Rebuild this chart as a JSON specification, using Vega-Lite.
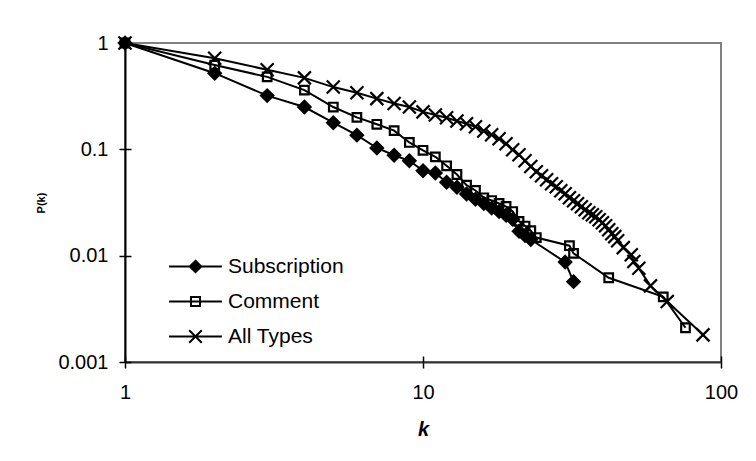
{
  "$schema": "https://vega.github.io/schema/vega-lite/v6.json",
  "autosize": {"type": "none"},
  "padding": {"left": 125, "top": 43, "right": 35, "bottom": 99},
  "width": 596,
  "height": 319,
  "background": "white",
  "config": {
    "view": {"stroke": "#808080", "strokeWidth": 2},
    "font": "Liberation Sans"
  },
  "data": {
    "values": [
      {"series": "Subscription", "k": 1, "p": 1},
      {"series": "Subscription", "k": 2, "p": 0.52},
      {"series": "Subscription", "k": 3, "p": 0.32},
      {"series": "Subscription", "k": 4, "p": 0.25},
      {"series": "Subscription", "k": 5, "p": 0.178},
      {"series": "Subscription", "k": 6, "p": 0.136},
      {"series": "Subscription", "k": 7, "p": 0.103},
      {"series": "Subscription", "k": 8, "p": 0.088},
      {"series": "Subscription", "k": 9, "p": 0.078},
      {"series": "Subscription", "k": 10, "p": 0.063},
      {"series": "Subscription", "k": 11, "p": 0.06},
      {"series": "Subscription", "k": 12, "p": 0.049},
      {"series": "Subscription", "k": 13, "p": 0.044},
      {"series": "Subscription", "k": 14, "p": 0.038},
      {"series": "Subscription", "k": 15, "p": 0.034},
      {"series": "Subscription", "k": 16, "p": 0.031},
      {"series": "Subscription", "k": 17, "p": 0.028},
      {"series": "Subscription", "k": 18, "p": 0.026},
      {"series": "Subscription", "k": 19, "p": 0.024},
      {"series": "Subscription", "k": 20, "p": 0.022},
      {"series": "Subscription", "k": 21, "p": 0.017},
      {"series": "Subscription", "k": 22, "p": 0.0155},
      {"series": "Subscription", "k": 23, "p": 0.0142},
      {"series": "Subscription", "k": 30, "p": 0.0087},
      {"series": "Subscription", "k": 32, "p": 0.0057},
      {"series": "Comment", "k": 1, "p": 1},
      {"series": "Comment", "k": 2, "p": 0.62},
      {"series": "Comment", "k": 3, "p": 0.48},
      {"series": "Comment", "k": 4, "p": 0.36},
      {"series": "Comment", "k": 5, "p": 0.25},
      {"series": "Comment", "k": 6, "p": 0.2},
      {"series": "Comment", "k": 7, "p": 0.172},
      {"series": "Comment", "k": 8, "p": 0.15},
      {"series": "Comment", "k": 9, "p": 0.116},
      {"series": "Comment", "k": 10, "p": 0.098},
      {"series": "Comment", "k": 11, "p": 0.085},
      {"series": "Comment", "k": 12, "p": 0.07},
      {"series": "Comment", "k": 13, "p": 0.058},
      {"series": "Comment", "k": 14, "p": 0.046},
      {"series": "Comment", "k": 15, "p": 0.041},
      {"series": "Comment", "k": 16, "p": 0.035},
      {"series": "Comment", "k": 17, "p": 0.033},
      {"series": "Comment", "k": 18, "p": 0.031},
      {"series": "Comment", "k": 19, "p": 0.029},
      {"series": "Comment", "k": 20, "p": 0.026},
      {"series": "Comment", "k": 21, "p": 0.021},
      {"series": "Comment", "k": 22, "p": 0.019},
      {"series": "Comment", "k": 23, "p": 0.0172},
      {"series": "Comment", "k": 24, "p": 0.0148},
      {"series": "Comment", "k": 31, "p": 0.0124},
      {"series": "Comment", "k": 32, "p": 0.0105},
      {"series": "Comment", "k": 42, "p": 0.0062},
      {"series": "Comment", "k": 64, "p": 0.0041},
      {"series": "Comment", "k": 76, "p": 0.0021},
      {"series": "All Types", "k": 1, "p": 1},
      {"series": "All Types", "k": 2, "p": 0.72},
      {"series": "All Types", "k": 3, "p": 0.56},
      {"series": "All Types", "k": 4, "p": 0.47},
      {"series": "All Types", "k": 5, "p": 0.385},
      {"series": "All Types", "k": 6, "p": 0.34},
      {"series": "All Types", "k": 7, "p": 0.3},
      {"series": "All Types", "k": 8, "p": 0.27},
      {"series": "All Types", "k": 9, "p": 0.25},
      {"series": "All Types", "k": 10, "p": 0.225},
      {"series": "All Types", "k": 11, "p": 0.21},
      {"series": "All Types", "k": 12, "p": 0.198},
      {"series": "All Types", "k": 13, "p": 0.185},
      {"series": "All Types", "k": 14, "p": 0.174},
      {"series": "All Types", "k": 15, "p": 0.163},
      {"series": "All Types", "k": 16, "p": 0.149},
      {"series": "All Types", "k": 17, "p": 0.137},
      {"series": "All Types", "k": 18, "p": 0.126},
      {"series": "All Types", "k": 19, "p": 0.113},
      {"series": "All Types", "k": 20, "p": 0.099},
      {"series": "All Types", "k": 21, "p": 0.089},
      {"series": "All Types", "k": 22, "p": 0.078},
      {"series": "All Types", "k": 23, "p": 0.069},
      {"series": "All Types", "k": 24, "p": 0.0615},
      {"series": "All Types", "k": 25, "p": 0.0564},
      {"series": "All Types", "k": 26, "p": 0.0517},
      {"series": "All Types", "k": 27, "p": 0.0475},
      {"series": "All Types", "k": 28, "p": 0.0445},
      {"series": "All Types", "k": 29, "p": 0.0408},
      {"series": "All Types", "k": 30, "p": 0.0382},
      {"series": "All Types", "k": 31, "p": 0.035},
      {"series": "All Types", "k": 32, "p": 0.0328},
      {"series": "All Types", "k": 33, "p": 0.0308},
      {"series": "All Types", "k": 34, "p": 0.0288},
      {"series": "All Types", "k": 35, "p": 0.027},
      {"series": "All Types", "k": 36, "p": 0.0253},
      {"series": "All Types", "k": 37, "p": 0.0243},
      {"series": "All Types", "k": 38, "p": 0.0232},
      {"series": "All Types", "k": 39, "p": 0.0218},
      {"series": "All Types", "k": 40, "p": 0.0204},
      {"series": "All Types", "k": 41, "p": 0.0191},
      {"series": "All Types", "k": 42, "p": 0.0175},
      {"series": "All Types", "k": 43, "p": 0.0161},
      {"series": "All Types", "k": 44, "p": 0.0151},
      {"series": "All Types", "k": 45, "p": 0.0138},
      {"series": "All Types", "k": 47, "p": 0.0119},
      {"series": "All Types", "k": 50, "p": 0.0102},
      {"series": "All Types", "k": 51, "p": 0.0088},
      {"series": "All Types", "k": 53, "p": 0.0076},
      {"series": "All Types", "k": 58, "p": 0.0052},
      {"series": "All Types", "k": 66, "p": 0.0037},
      {"series": "All Types", "k": 87, "p": 0.0018}
    ]
  },
  "resolve": {
    "axis": {"x": "independent", "y": "independent"},
    "scale": {"shape": "independent", "fill": "independent"},
    "legend": {"shape": "independent", "fill": "independent"}
  },
  "layer": [
    {
      "mark": {"type": "line", "stroke": "black", "strokeWidth": 2},
      "encoding": {
        "x": {
          "field": "k", "type": "quantitative",
          "scale": {"type": "log", "domain": [1, 100], "nice": false},
          "axis": {
            "orient": "bottom", "values": [1, 10, 100], "format": "~g",
            "grid": false, "tickSize": 6, "tickColor": "black", "tickWidth": 1.5,
            "domainColor": "#333333", "domainWidth": 2,
            "labelFontSize": 20, "labelColor": "black", "labelPadding": 14,
            "labelFlush": false, "labelOverlap": false,
            "title": "k", "titleFontSize": 20, "titleFontWeight": "bold",
            "titleFontStyle": "italic", "titleColor": "black", "titlePadding": 17
          }
        },
        "y": {
          "field": "p", "type": "quantitative",
          "scale": {"type": "log", "domain": [0.001, 1], "nice": false},
          "axis": {
            "orient": "left", "values": [0.001, 0.01, 0.1, 1], "format": "~g",
            "grid": false, "tickSize": 6, "tickColor": "black", "tickWidth": 1.5,
            "domainColor": "black", "domainWidth": 2,
            "labelFontSize": 20, "labelColor": "black", "labelPadding": 11,
            "labelFlush": false, "labelOverlap": false,
            "title": "P(k)", "titleFontSize": 11, "titleFontWeight": "bold",
            "titleColor": "black", "titlePadding": 11
          }
        },
        "detail": {"field": "series", "type": "nominal"},
        "order": {"field": "k", "type": "quantitative"}
      }
    },
    {
      "mark": {"type": "point", "size": 169, "strokeWidth": 2.2, "stroke": "black", "opacity": 1},
      "encoding": {
        "x": {
          "field": "k", "type": "quantitative",
          "scale": {"type": "log", "domain": [1, 100], "nice": false},
          "axis": {
            "orient": "bottom", "values": [1, 10, 100], "grid": false,
            "tickSize": -6, "tickColor": "black", "tickWidth": 1.5,
            "labels": false, "domain": false, "title": null
          }
        },
        "y": {
          "field": "p", "type": "quantitative",
          "scale": {"type": "log", "domain": [0.001, 1], "nice": false},
          "axis": {
            "orient": "left", "values": [0.001, 0.01, 0.1, 1], "grid": false,
            "tickSize": -6, "tickColor": "black", "tickWidth": 1.5,
            "labels": false, "domain": false, "title": null
          }
        },
        "shape": {
          "field": "series", "type": "nominal",
          "scale": {
            "domain": ["Subscription", "Comment", "All Types"],
            "range": ["M0,-0.95L0.95,0L0,0.95L-0.95,0Z", "M-0.66,-0.66H0.66V0.66H-0.66Z", "M-1,-1L1,1M-1,1L1,-1"]
          },
          "legend": null
        },
        "fill": {
          "field": "series", "type": "nominal",
          "scale": {
            "domain": ["Subscription", "Comment", "All Types"],
            "range": ["black", "transparent", "transparent"]
          },
          "legend": null
        }
      }
    },
    {
      "transform": [{"filter": "datum.k > 1000"}],
      "mark": {"type": "point", "size": 144, "strokeWidth": 2, "stroke": "black", "opacity": 1},
      "encoding": {
        "shape": {
          "field": "series", "type": "nominal",
          "scale": {
            "domain": ["Subscription", "Comment", "All Types"],
            "range": ["M-4.4,0H4.4M0,-0.95L0.95,0L0,0.95L-0.95,0Z", "M-4.4,0H4.4M-0.75,-0.75H0.75V0.75H-0.75Z", "M-4.4,0H4.4M-1.05,-1.05L1.05,1.05M-1.05,1.05L1.05,-1.05"]
          },
          "legend": {
            "orient": "none", "legendX": 60, "legendY": 213, "title": null,
            "padding": 0, "labelFontSize": 21, "labelFont": "Liberation Sans",
            "labelColor": "black", "labelOffset": 22, "rowPadding": 13,
            "symbolSize": 144, "symbolStrokeWidth": 2, "symbolOpacity": 1
          }
        },
        "fill": {
          "field": "series", "type": "nominal",
          "scale": {
            "domain": ["Subscription", "Comment", "All Types"],
            "range": ["black", "transparent", "transparent"]
          },
          "legend": null
        }
      }
    }
  ]
}
